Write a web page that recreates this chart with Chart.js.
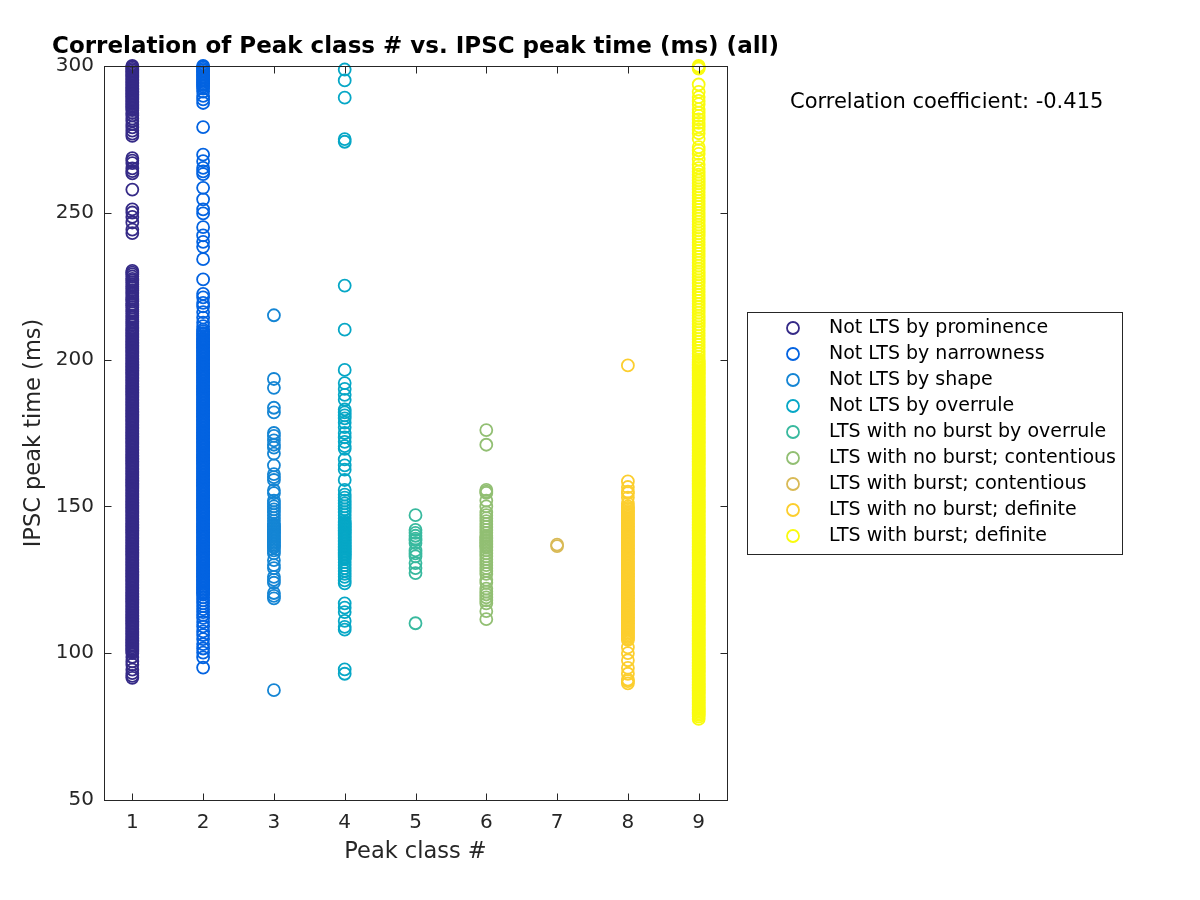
<!DOCTYPE html>
<html>
<head>
<meta charset="utf-8">
<script src="https://cdn.jsdelivr.net/npm/chart.js@4"></script>
<style>
  html, body { margin: 0; padding: 0; background: #fff; }
  #wrap { width: 1200px; height: 900px; }
</style>
</head>
<body>
<div id="wrap"><canvas id="peakChart" width="1200" height="900"></canvas></div>
<script>
// tick positions
const xTickValues = [1, 2, 3, 4, 5, 6, 7, 8, 9];
const yTickValues = [50, 100, 150, 200, 250, 300];

const classLabels = [
	"Not LTS by prominence",
	"Not LTS by narrowness",
	"Not LTS by shape",
	"Not LTS by overrule",
	"LTS with no burst by overrule",
	"LTS with no burst; contentious",
	"LTS with burst; contentious",
	"LTS with no burst; definite",
	"LTS with burst; definite",
];
const classColors = ["#352a87", "#0363e1", "#1485d4", "#06a7c6", "#38b99e", "#92bf73", "#d9ba56", "#fcce2e", "#f9fb0e"];
const corrText = "Correlation coefficient: -0.415";

// IPSC peak times (ms) per peak class
const yProminence = [
	300, 299.5, 299, 298.5, 298, 297.5, 297, 296.5, 296, 295.5, 295, 294.5, 294, 293.5, 293, 292.5, 292, 291.5, 291, 290.5,
	290, 289.5, 289, 288.5, 288, 287.5, 287, 286.5, 286, 285.5, 285, 284, 283.2, 282.1, 281.3, 280.2, 279.1, 278, 277, 276.2,
	268.6, 267.8, 266.9, 265.1, 264.2, 263.4, 257.9, 251.2, 250.1, 248.6, 246.7, 244.3, 243.1,
	230.2, 229.6, 229, 228.3, 227.5, 227, 226.4, 225.6, 225, 224.4, 223.6, 223, 222.4, 221.7, 221, 220.4,
	219.8, 219, 218.5, 217.8, 217, 216.5, 215.8, 215, 214.5, 213.8, 213, 212.5, 211.8, 211, 210.5,
	210, 209.5, 209, 208.5, 208, 207.5, 207, 206.5, 206, 205.5, 205, 204.5, 204, 203.5, 203, 202.5, 202, 201.5, 201, 200.5, 200,
	199.5, 199, 198.5, 198, 197.5, 197, 196.5, 196, 195.5, 195, 194.5, 194, 193.5, 193, 192.5, 192, 191.5, 191, 190.5, 190,
	189.5, 189, 188.5, 188, 187.5, 187, 186.5, 186, 185.5, 185, 184.5, 184, 183.5, 183, 182.5, 182, 181.5, 181, 180.5, 180,
	179.5, 179, 178.5, 178, 177.5, 177, 176.5, 176, 175.5, 175, 174.5, 174, 173.5, 173, 172.5, 172, 171.5, 171, 170.5, 170,
	169.5, 169, 168.5, 168, 167.5, 167, 166.5, 166, 165.5, 165, 164.5, 164, 163.5, 163, 162.5, 162, 161.5, 161, 160.5, 160,
	159.5, 159, 158.5, 158, 157.5, 157, 156.5, 156, 155.5, 155, 154.5, 154, 153.5, 153, 152.5, 152, 151.5, 151, 150.5, 150,
	149.5, 149, 148.5, 148, 147.5, 147, 146.5, 146, 145.5, 145, 144.5, 144, 143.5, 143, 142.5, 142, 141.5, 141, 140.5, 140,
	139.5, 139, 138.5, 138, 137.5, 137, 136.5, 136, 135.5, 135, 134.5, 134, 133.5, 133, 132.5, 132, 131.5, 131, 130.5, 130,
	129.5, 129, 128.5, 128, 127.5, 127, 126.5, 126, 125.5, 125, 124.5, 124, 123.5, 123, 122.5, 122, 121.5, 121, 120.5, 120,
	119.5, 119, 118.5, 118, 117.5, 117, 116.5, 116, 115.5, 115, 114.5, 114, 113.5, 113, 112.5, 112, 111.5, 111, 110.5, 110,
	109.5, 109, 108.5, 108, 107.5, 107, 106.5, 106, 105.5, 105, 104.5, 104, 103.5, 103, 102.5, 102, 101.5, 101, 100.5, 100,
	98.7, 97.2, 96.1, 94.4, 93.2, 92.3, 91.6,
];
const yNarrowness = [
	300, 299.5, 299, 298.5, 298, 297.5, 297, 296.5, 296, 295.5, 295, 294.5, 294, 293.5, 293, 292.3, 291.3, 289.8, 288.6, 287.4,
	279.2, 269.8, 267.6, 265.3, 264.1, 263.2, 258.5, 254.6, 251.2, 249.8, 245.1, 242.3, 240.1, 238.4, 234.2,
	227.3, 222.4, 221.2, 219.3, 218.1, 216.2, 214.3, 212.6, 211.4,
	210.2, 209.6, 209, 208.5, 208, 207.4, 207, 206.5, 206, 205.5, 205, 204.5, 204, 203.5, 203, 202.5, 202, 201.5, 201, 200.5, 200,
	199.5, 199, 198.5, 198, 197.5, 197, 196.5, 196, 195.5, 195, 194.5, 194, 193.5, 193, 192.5, 192, 191.5, 191, 190.5, 190,
	189.5, 189, 188.5, 188, 187.5, 187, 186.5, 186, 185.5, 185, 184.5, 184, 183.5, 183, 182.5, 182, 181.5, 181, 180.5, 180,
	179.5, 179, 178.5, 178, 177.5, 177, 176.5, 176, 175.5, 175, 174.5, 174, 173.5, 173, 172.5, 172, 171.5, 171, 170.5, 170,
	169.5, 169, 168.5, 168, 167.5, 167, 166.5, 166, 165.5, 165, 164.5, 164, 163.5, 163, 162.5, 162, 161.5, 161, 160.5, 160,
	159.5, 159, 158.5, 158, 157.5, 157, 156.5, 156, 155.5, 155, 154.5, 154, 153.5, 153, 152.5, 152, 151.5, 151, 150.5, 150,
	149.5, 149, 148.5, 148, 147.5, 147, 146.5, 146, 145.5, 145, 144.5, 144, 143.5, 143, 142.5, 142, 141.5, 141, 140.5, 140,
	139.5, 139, 138.5, 138, 137.5, 137, 136.5, 136, 135.5, 135, 134.5, 134, 133.5, 133, 132.5, 132, 131.5, 131, 130.5, 130,
	129.5, 129, 128.5, 128, 127.5, 127, 126.5, 126, 125.5, 125, 124.5, 124, 123.5, 123, 122.5, 122, 121.5, 121, 120.5, 120,
	119, 118, 117, 116, 115, 114, 113, 112,
	110.6, 109.1, 107.4, 106.2, 104.8, 103.1, 101.6, 100.2, 98.6, 95.1,
];
const yShape = [
	215.1, 193.4, 190.4, 183.6, 182, 175, 174, 172.5, 171, 170, 168, 164, 161, 160, 159, 155.5, 154.5,
	152, 151, 150, 149, 148, 147, 146, 145, 144, 143.5, 143, 142.5, 142, 141.5, 141, 140.5, 140, 139.5, 139,
	138.5, 138, 137.5, 137, 136.5, 136, 135, 134,
	131.7, 130, 129, 126, 125, 124, 120.5, 119.5, 118.7, 87.4,
];
const yOverrule = [
	298.8, 295.1, 289.2, 275.1, 274.2, 225.2, 210.2, 196.5, 192, 190, 188, 186.3, 183, 182, 181, 180,
	178.5, 177, 175, 173.5, 172, 170.5, 169.6, 166, 164, 162.5, 159, 155.6, 154, 153, 152, 151, 150,
	149, 148, 147, 146, 145, 144.5, 144, 143.5, 143, 142.5, 142, 141.5, 141, 140.5, 140, 139.5, 139,
	138.5, 138, 137.5, 137, 136.5, 136, 135.5, 135, 134.5, 134, 133.5, 133, 132.5, 132, 131, 130, 129,
	128, 127, 126, 124.8, 123.8, 117, 115.5, 114, 111, 109, 108, 94.5, 93,
];
const yNoBurstOverrule = [147, 142, 141, 140, 139, 138.5, 137.5, 135, 134, 133, 130.7, 129, 127.3, 110.2];
const yNoBurstContentious = [
	176, 171, 155.6, 155, 154.6, 152, 150, 148, 147, 146, 145, 144, 143, 142, 141, 140, 139.5, 139, 138.5,
	138, 137.5, 137, 136.5, 136, 135, 134, 133, 132, 131, 130, 129, 128, 127, 125, 124, 122, 121, 120,
	119, 118, 117, 114.3, 111.6,
];
const yBurstContentious = [136.5, 137];
const yNoBurstDefinite = [
	198, 158.5, 156.6, 155, 154.5, 153, 151,
	150, 149.5, 149, 148.5, 148, 147.5, 147, 146.5, 146, 145.5, 145, 144.5, 144, 143.5, 143, 142.5, 142, 141.5, 141, 140.5,
	140, 139.5, 139, 138.5, 138, 137.5, 137, 136.5, 136, 135.5, 135, 134.5, 134, 133.5, 133, 132.5, 132, 131.5, 131, 130.5,
	130, 129.5, 129, 128.5, 128, 127.5, 127, 126.5, 126, 125.5, 125, 124.5, 124, 123.5, 123, 122.5, 122, 121.5, 121, 120.5,
	120, 119.5, 119, 118.5, 118, 117.5, 117, 116.5, 116, 115.5, 115, 114.5, 114, 113.5, 113, 112.5, 112, 111.5, 111, 110.5,
	110, 109.5, 109, 108.5, 108, 107.5, 107, 106.5, 106, 105.5, 105,
	104.5, 102, 100, 97.6, 95, 93, 91, 90.5, 89.7,
];
const yBurstDefinite = [
	300, 299.6, 299.1, 293.7, 291.2, 289.4, 288.1, 287, 285.3, 284.1, 283, 281.8, 280.6, 279.4, 278.3,
	277.1, 275.2, 272.4, 271.3, 270.1, 268.2, 266.4, 265.2,
	264, 263, 262, 261, 260, 259, 258, 257, 256, 255, 254, 253, 252, 251,
	250, 249, 248, 247, 246, 245, 244, 243, 242, 241, 240, 239, 238, 237, 236, 235, 234, 233, 232, 231,
	230, 229, 228, 227, 226, 225, 224, 223, 222, 221, 220, 219, 218, 217, 216, 215, 214, 213, 212, 211,
	210, 209, 208, 207, 206, 205, 204, 203, 202, 201, 200,
	199.5, 199, 198.5, 198, 197.5, 197, 196.5, 196, 195.5, 195, 194.5, 194, 193.5, 193, 192.5, 192, 191.5, 191, 190.5, 190,
	189.5, 189, 188.5, 188, 187.5, 187, 186.5, 186, 185.5, 185, 184.5, 184, 183.5, 183, 182.5, 182, 181.5, 181, 180.5, 180,
	179.5, 179, 178.5, 178, 177.5, 177, 176.5, 176, 175.5, 175, 174.5, 174, 173.5, 173, 172.5, 172, 171.5, 171, 170.5, 170,
	169.5, 169, 168.5, 168, 167.5, 167, 166.5, 166, 165.5, 165, 164.5, 164, 163.5, 163, 162.5, 162, 161.5, 161, 160.5, 160,
	159.5, 159, 158.5, 158, 157.5, 157, 156.5, 156, 155.5, 155, 154.5, 154, 153.5, 153, 152.5, 152, 151.5, 151, 150.5, 150,
	149.5, 149, 148.5, 148, 147.5, 147, 146.5, 146, 145.5, 145, 144.5, 144, 143.5, 143, 142.5, 142, 141.5, 141, 140.5, 140,
	139.5, 139, 138.5, 138, 137.5, 137, 136.5, 136, 135.5, 135, 134.5, 134, 133.5, 133, 132.5, 132, 131.5, 131, 130.5, 130,
	129.5, 129, 128.5, 128, 127.5, 127, 126.5, 126, 125.5, 125, 124.5, 124, 123.5, 123, 122.5, 122, 121.5, 121, 120.5, 120,
	119.5, 119, 118.5, 118, 117.5, 117, 116.5, 116, 115.5, 115, 114.5, 114, 113.5, 113, 112.5, 112, 111.5, 111, 110.5, 110,
	109.5, 109, 108.5, 108, 107.5, 107, 106.5, 106, 105.5, 105, 104.5, 104, 103.5, 103, 102.5, 102, 101.5, 101, 100.5, 100,
	99.5, 99, 98.5, 98, 97.5, 97, 96.5, 96, 95.5, 95, 94.5, 94, 93.5, 93, 92.5, 92, 91.5, 91, 90.5, 90,
	89.5, 89, 88.5, 88, 87.5, 87, 86.5, 86, 85.5, 85, 84.5, 84, 83.5, 83, 82.5, 82, 81.5, 81, 80.5, 80,
	79.5, 79, 78.4, 77.6,
];

const classValues = [
	yProminence, yNarrowness, yShape, yOverrule, yNoBurstOverrule,
	yNoBurstContentious, yBurstContentious, yNoBurstDefinite, yBurstDefinite,
];

const datasets = classValues.map((ys, i) => ({
	label: classLabels[i],
	data: ys.map((y) => ({ x: xTickValues[i], y: y })),
	borderColor: classColors[i],
	backgroundColor: "rgba(0,0,0,0)",
	pointRadius: 6,
	pointBorderWidth: 1.8,
	pointStyle: "circle",
	clip: false,
}));

const FONT = "'DejaVu Sans', sans-serif";
const AXIS_COL = "#262626";

// draws the MATLAB style box, inward ticks, title, text and legend
const matlabFrame = {
	id: "matlabFrame",
	afterDraw(chart) {
		const { ctx, chartArea: a, scales } = chart;
		ctx.save();
		ctx.strokeStyle = AXIS_COL;
		ctx.lineWidth = 1;
		const L = Math.round(a.left) + 0.5, R = Math.round(a.right) + 0.5;
		const T = Math.round(a.top) + 0.5, B = Math.round(a.bottom) + 0.5;
		ctx.strokeRect(L, T, R - L, B - T);
		ctx.beginPath();
		xTickValues.forEach((v) => {
			const px = Math.round(scales.x.getPixelForValue(v)) + 0.5;
			ctx.moveTo(px, B); ctx.lineTo(px, B - 7);
			ctx.moveTo(px, T); ctx.lineTo(px, T + 7);
		});
		yTickValues.forEach((v) => {
			const py = Math.round(scales.y.getPixelForValue(v)) + 0.5;
			ctx.moveTo(L, py); ctx.lineTo(L + 7, py);
			ctx.moveTo(R, py); ctx.lineTo(R - 7, py);
		});
		ctx.stroke();

		// title
		ctx.fillStyle = "#000";
		ctx.font = "bold 23px " + FONT;
		ctx.textAlign = "center";
		ctx.textBaseline = "middle";
		ctx.fillText("Correlation of Peak class # vs. IPSC peak time (ms) (all)", (a.left + a.right) / 2, 47);

		// correlation text
		ctx.font = "21px " + FONT;
		ctx.textAlign = "left";
		ctx.fillText(corrText, 790, 103);

		// legend
		ctx.strokeStyle = "#262626";
		ctx.lineWidth = 1;
		ctx.strokeRect(747.5, 312.5, 375, 242);
		ctx.font = "19px " + FONT;
		classLabels.forEach((lab, i) => {
			const cy = 328 + i * 26;
			ctx.beginPath();
			ctx.strokeStyle = classColors[i];
			ctx.lineWidth = 1.8;
			ctx.arc(793, cy, 6, 0, Math.PI * 2);
			ctx.stroke();
			ctx.fillStyle = "#000";
			ctx.fillText(lab, 829, cy);
		});
		ctx.restore();
	},
};

const config = {
	type: "scatter",
	data: { datasets: datasets },
	options: {
		responsive: false,
		animation: false,
		events: [],
		layout: { padding: { left: 0, right: 473, top: 66, bottom: 0 } },
		plugins: {
			legend: { display: false },
			title: { display: false },
			tooltip: { enabled: false },
		},
		scales: {
			x: {
				type: "linear",
				min: 0.6,
				max: 9.4,
				grid: { display: false, drawTicks: false },
				border: { display: false },
				afterBuildTicks: (s) => { s.ticks = xTickValues.map((v) => ({ value: v })); },
				afterFit: (s) => { s.height = 100; },
				ticks: { color: AXIS_COL, font: { family: FONT, size: 20 }, padding: 11, maxRotation: 0 },
				title: { display: true, text: "Peak class #", color: AXIS_COL, font: { family: FONT, size: 22.5 }, padding: { bottom: 34 } },
			},
			y: {
				type: "linear",
				min: 50,
				max: 300,
				grid: { display: false, drawTicks: false },
				border: { display: false },
				afterBuildTicks: (s) => { s.ticks = yTickValues.map((v) => ({ value: v })); },
				afterFit: (s) => { s.width = 104; },
				ticks: { color: AXIS_COL, font: { family: FONT, size: 20 }, padding: 10 },
				title: { display: true, text: "IPSC peak time (ms)", color: AXIS_COL, font: { family: FONT, size: 22.5 }, padding: { top: 21 } },
			},
		},
	},
	plugins: [matlabFrame],
};

const chart = new Chart(document.getElementById("peakChart"), config);
</script>
</body>
</html>
